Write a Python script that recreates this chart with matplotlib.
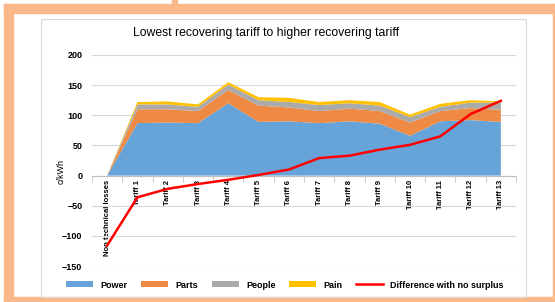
import matplotlib
matplotlib.use("Agg")
import matplotlib.pyplot as plt
from matplotlib.patches import Rectangle
import numpy as np

categories = ["Non technical losses"] + ["Tariff %d" % i for i in range(1, 14)]
power = [0, 87, 88, 87, 120, 89, 90, 87, 90, 86, 66, 90, 92, 89]
parts = [0, 23, 22, 20, 22, 27, 23, 20, 21, 21, 22, 17, 20, 20]
people = [0, 8, 8, 7, 9, 9, 9, 10, 9, 9, 9, 7, 9, 12]
pain = [0, 4, 5, 4, 4, 5, 7, 5, 5, 6, 4, 5, 4, 2]
difference = [-116, -36, -22, -14, -7, 1, 10, 29, 33, 43, 51, 65, 102, 124]

plt.rcParams['font.family'] = ['Liberation Sans', 'DejaVu Sans']

fig = plt.figure(figsize=(5.55, 3.02), dpi=100)
W, H = 555, 302

# orange frame and inner chart box
frame_col = '#FBB98A'
fig.patches.append(Rectangle((4 / W, 0), 9 / W, 1 - 4 / H, transform=fig.transFigure, color=frame_col, zorder=0))
fig.patches.append(Rectangle((4 / W, 1 - 13 / H), 1, 9 / H, transform=fig.transFigure, color=frame_col, zorder=0))
fig.patches.append(Rectangle((4 / W, 0), 1, 5 / H, transform=fig.transFigure, color=frame_col, zorder=0))
fig.patches.append(Rectangle((553 / W, 0), 2 / W, 1 - 4 / H, transform=fig.transFigure, color=frame_col, zorder=0))
fig.patches.append(Rectangle((172 / W, 1 - 4 / H), 5 / W, 4 / H, transform=fig.transFigure, color=frame_col, zorder=0))
fig.patches.append(Rectangle((41 / W, 5 / H), 485 / W, 1 - 24 / H, transform=fig.transFigure,
                             facecolor='none', edgecolor='#D9D9D9', lw=0.8, zorder=1))

ax = fig.add_axes([92 / W, 1 - 266 / H, (516 - 92) / W, (266 - 55) / H])
x = np.arange(len(categories))

ax.stackplot(x, power, parts, people, pain,
             colors=['#66A3D8', '#EE8A43', '#AAAAAA', '#FFC000'],
             labels=['Power', 'Parts', 'People', 'Pain'], zorder=2)
ax.plot(x, difference, color='#FF0000', lw=1.8, label='Difference with no surplus', zorder=3)

ax.set_xlim(-0.5, len(categories) - 0.5)
ax.set_ylim(-150, 200)
ax.set_yticks(np.arange(-150, 201, 50))
ax.yaxis.grid(True, color='#D9D9D9', lw=0.8)
ax.set_axisbelow(True)
for s in ['left', 'right', 'top']:
    ax.spines[s].set_visible(False)
ax.spines['bottom'].set_position(('data', 0))
ax.spines['bottom'].set_color('#BFBFBF')
ax.spines['bottom'].set_zorder(1)

ax.set_xticks(x)
ax.set_xticklabels(categories, rotation=90, fontsize=5.5, fontweight='bold', va='top', ha='center')
ax.set_xticks(np.arange(-0.5, len(categories), 1), minor=True)
ax.tick_params(axis='x', which='major', length=0, pad=3)
ax.tick_params(axis='x', which='minor', length=4, color='#BFBFBF')
ax.tick_params(axis='y', length=0, labelsize=6.5, pad=7)
for t in ax.get_yticklabels():
    t.set_fontweight('bold')

ax.set_ylabel('c/kWh', fontsize=6.5)
ax.yaxis.set_label_coords(-0.062, 0.45)

fig.text(266 / W, 1 - 33 / H, 'Lowest recovering tariff to higher recovering tariff',
         ha='center', va='center', fontsize=8.8)

fig.legend(loc='center', bbox_to_anchor=(285 / W, 1 - 285 / H), ncol=5, frameon=False,
           handlelength=3, handleheight=0.6, columnspacing=1.5,
           prop={'weight': 'bold', 'size': 6.5})

fig.savefig('out.png', dpi=100, facecolor='white')
